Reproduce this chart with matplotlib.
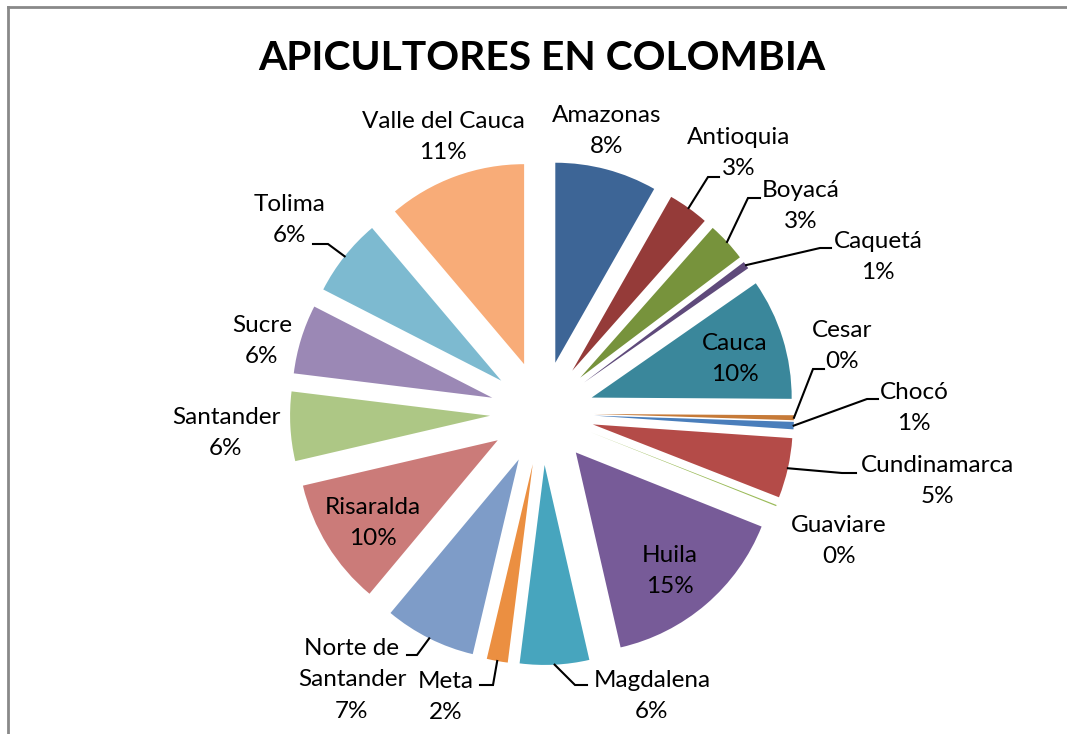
import matplotlib
matplotlib.use('Agg')
import matplotlib.pyplot as plt
from matplotlib.lines import Line2D
import numpy as np

plt.rcParams['font.family'] = ['Lato', 'DejaVu Sans']

# datos (participacion aproximada por departamento)
departamentos = ['Amazonas', 'Antioquia', 'Boyacá', 'Caquetá', 'Cauca', 'Cesar',
                 'Chocó', 'Cundinamarca', 'Guaviare', 'Huila', 'Magdalena', 'Meta',
                 'Norte de\nSantander', 'Risaralda', 'Santander', 'Sucre', 'Tolima',
                 'Valle del Cauca']
valores = [8.25, 3.3, 3.2, 0.6, 9.8, 0.4, 0.6, 4.85, 0.1, 15.4, 5.6, 1.7,
           7.4, 10.3, 5.6, 5.6, 6.3, 11.2]

colores = ['#3D6596', '#953B39', '#77933C', '#5F4A7B', '#3A879B', '#C67A38',
           '#4A7EBB', '#B44B48', '#9BBB59', '#775B98', '#47A5BE', '#EB8F41',
           '#7E9CC8', '#CB7B79', '#ADC785', '#9B88B5', '#7DBAD0', '#F8AC78']

# layout en pixeles: centro de cada etiqueta
pos_etiqueta = [(607, 131), (739, 153), (801, 206), (878, 257), (735, 359), (842, 346),
                (914, 408), (937, 481), (839, 541), (670, 571), (652, 696), (446, 697),
                (352, 680), (373, 523), (226, 433), (262, 341), (290, 220), (443, 137)]
# lineas guia: (codo, final) en pixeles, None = sin linea
guias = [None, ((708, 177), (719, 177)), ((748, 198), (760, 198)), ((820, 248), (831, 248)),
         None, ((813, 369), (824, 369)), ((867, 399), (878, 399)), ((842, 473), (856, 473)),
         None, None, ((575, 685), (587, 685)), ((493, 685), (480, 685)),
         ((417, 655), (407, 655)), None, None, None, ((328, 244), (313, 244)), None]

W, H = 1067, 734
CX, CY, R = 542, 413, 200
EXPLODE = 0.26


def px(x, y):
    return (x - CX) / R, (CY - y) / R


fig = plt.figure(figsize=(W / 100, H / 100), dpi=100)
ax = fig.add_axes([0, 0, 1, 1])

wedges, _ = ax.pie(valores, explode=[EXPLODE] * len(valores), colors=colores,
                   startangle=90, counterclock=False, radius=1,
                   wedgeprops=dict(linewidth=0))
ax.set_aspect('auto')
ax.set_xlim(-CX / R, (W - CX) / R)
ax.set_ylim(-(H - CY) / R, CY / R)
ax.axis('off')

total = sum(valores)
for w, nombre, v, p, g in zip(wedges, departamentos, valores, pos_etiqueta, guias):
    texto = f'{nombre}\n{round(v / total * 100):.0f}%'
    x, y = px(*p)
    ax.text(x, y, texto, ha='center', va='center', fontsize=17.5, color='black',
            linespacing=1.62, multialignment='center')
    if g is not None:
        ang = np.deg2rad((w.theta1 + w.theta2) / 2)
        sx = w.center[0] + w.r * np.cos(ang)
        sy = w.center[1] + w.r * np.sin(ang)
        (ex, ey), (fx, fy) = px(*g[0]), px(*g[1])
        ax.plot([sx, ex, fx], [sy, ey, fy], color='black', lw=1.5,
                solid_joinstyle='miter')

fig.text(CX / W, 1 - 59 / H, 'APICULTORES EN COLOMBIA', ha='center', va='center',
         fontsize=29.3, fontweight='bold', color='black')

# borde del area del grafico
fig.add_artist(Line2D([8 / W, 1], [1 - 7 / H, 1 - 7 / H], transform=fig.transFigure,
                      color='#898989', lw=2))
fig.add_artist(Line2D([8 / W, 8 / W], [0, 1 - 7 / H], transform=fig.transFigure,
                      color='#898989', lw=2))

fig.savefig('out.png', dpi=100)
